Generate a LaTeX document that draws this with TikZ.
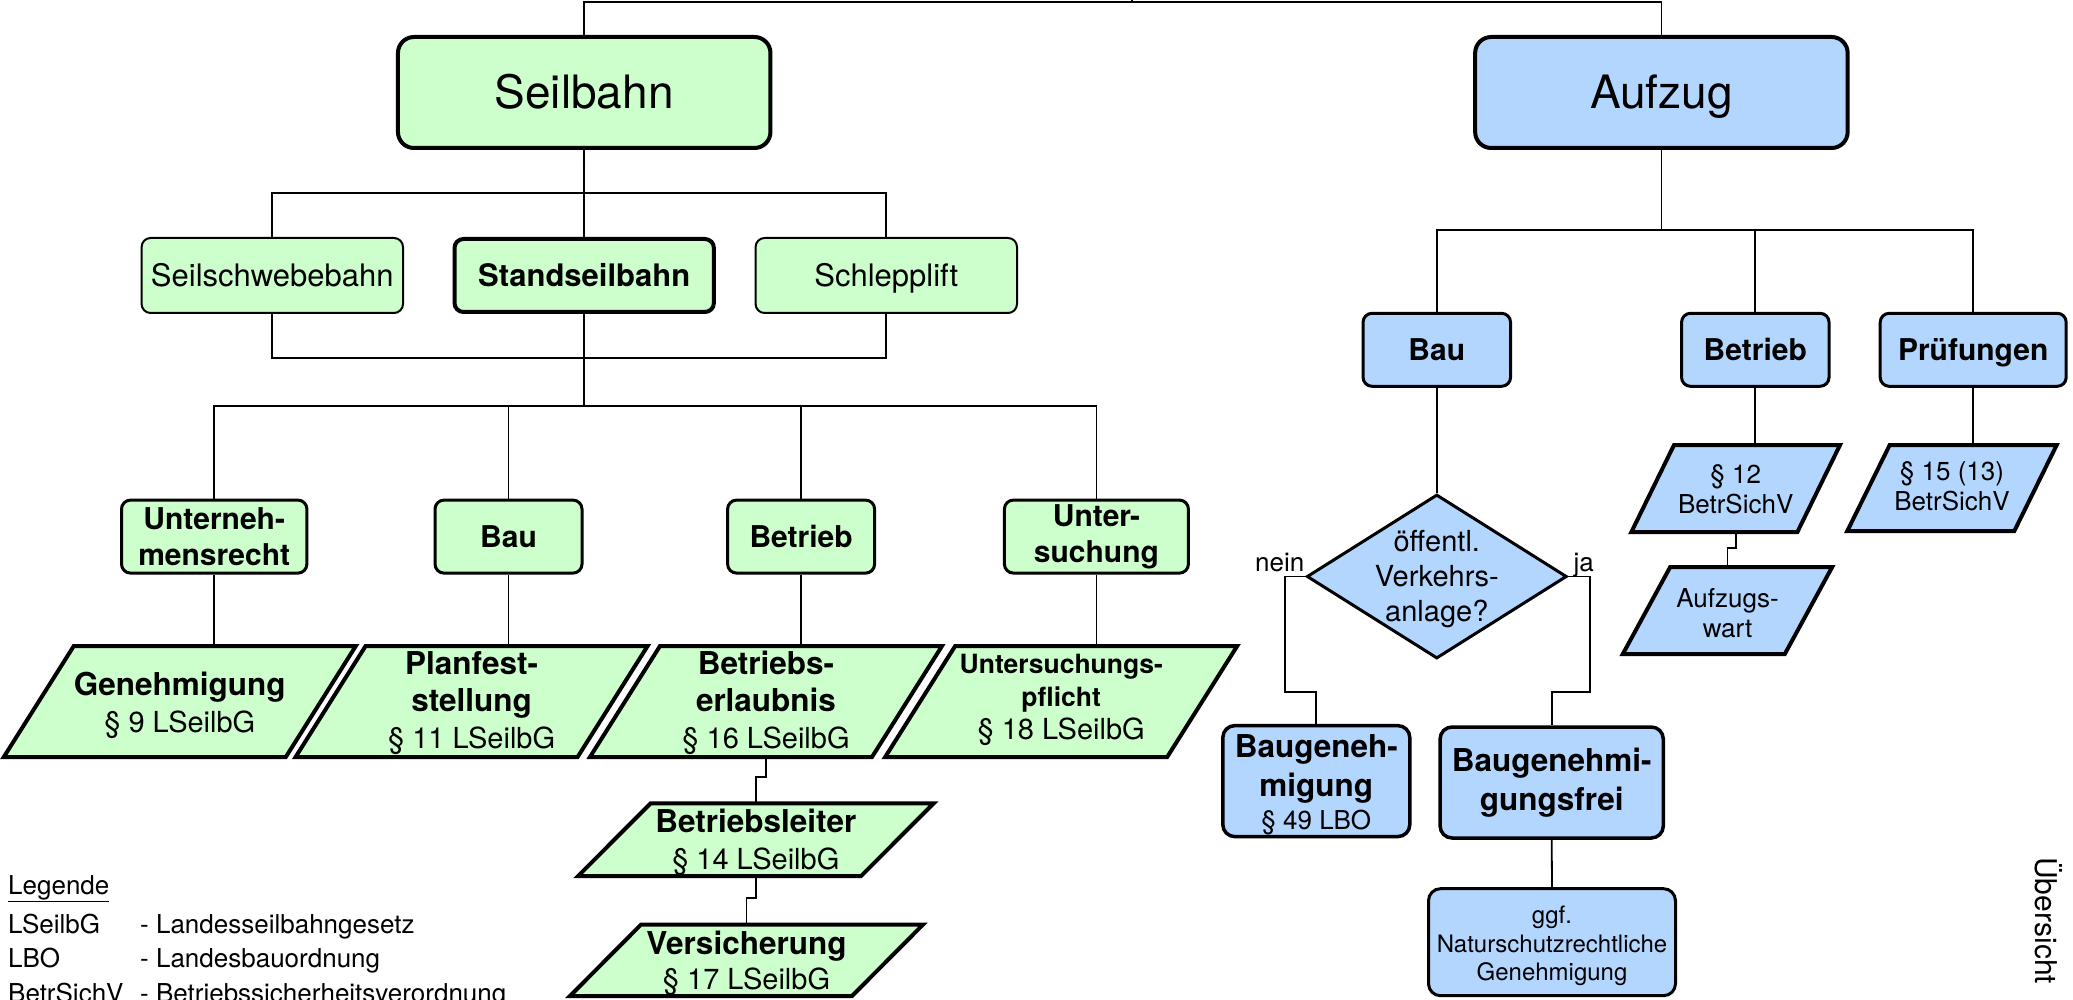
\documentclass[tikz,border=0pt]{standalone}
\usepackage{fontspec}
\setmainfont{TeX Gyre Heros}
\usetikzlibrary{shapes.geometric}
\definecolor{gfill}{RGB}{204,255,204}
\definecolor{bfill}{RGB}{179,214,255}
\newcommand{\fsz}[2]{\fontsize{#1}{#2}\selectfont}
% #1 style, #2 name, #3 cx, #4 cy, #5 half width, #6 half height, #7 half slant
\newcommand{\pgram}[7]{%
  \draw[#1] ({#3-#5+#7},{#4-#6}) -- ({#3+#5+#7},{#4-#6}) -- ({#3+#5-#7},{#4+#6}) -- ({#3-#5-#7},{#4+#6}) -- cycle;
  \coordinate (#2T) at ({#3+#7},{#4-#6});
  \coordinate (#2N) at (#3,{#4-#6});
  \coordinate (#2S) at (#3,{#4+#6});
}
\begin{document}
\begin{tikzpicture}[x=1pt,y=-1pt,
  conn/.style={line width=1.8pt},
  bigbox/.style={draw, line width=4pt, rounded corners=16pt, inner sep=0pt, minimum width=372.5pt, minimum height=111pt, font=\fsz{46}{55}, text height=33pt, text depth=0pt},
  lvbox/.style={draw, line width=2pt, rounded corners=9pt, minimum width=261.4pt, minimum height=75pt, inner sep=0pt, fill=gfill, font=\fsz{31}{37}, text height=22.3pt, text depth=0pt},
  catbox/.style={draw, line width=3pt, rounded corners=9pt, minimum height=73pt, inner sep=0pt, font=\fsz{30}{36}\bfseries, align=center},
  oneline/.style={text height=21.6pt, text depth=0pt},
  resbox/.style={draw, line width=3.5pt, rounded corners=12pt, minimum height=111pt, inner sep=0pt, fill=bfill, align=center},
  para/.style={draw, line width=4pt, line join=miter},
  ptext/.style={inner sep=0pt, align=center},
  lab/.style={inner sep=0pt, font=\fsz{26}{30}},
  leg/.style={inner sep=0pt, font=\fsz{26}{32}}
]
\useasboundingbox (0,0) rectangle (2073,1000);

% ---------- top level ----------
\node[bigbox, fill=gfill] (seil) at (584.2,92.5) {Seilbahn};
\node[bigbox, fill=bfill] (aufz) at (1661.4,92.5) {Aufzug};
\coordinate (hub) at (1132,2.3);
\coordinate (upend) at (1132,-5);
\draw[conn] (seil.north) |- (hub) -| (aufz.north);
\draw[conn] (hub) -- (upend);

% ---------- Seilbahn level 2 ----------
\node[lvbox] (ss) at (272.3,275.5) {Seilschwebebahn};
\node[lvbox, line width=4pt, minimum width=259.4pt, minimum height=73pt, font=\fsz{31}{37}\bfseries] (sb) at (584.2,275.5) {Standseilbahn};
\node[lvbox] (sl) at (886.3,275.5) {Schlepplift};
\coordinate (b1) at (584.2,193);
\coordinate (b2) at (584.2,358);
\coordinate (b3) at (584.2,405.7);
\draw[conn] (seil.south) -- (b1);
\draw[conn] (ss.north) |- (b1) -| (sl.north);
\draw[conn] (b1) -- (sb.north);
\draw[conn] (ss.south) |- (b2) -| (sl.south);
\draw[conn] (sb.south) -- (b3);

% ---------- Seilbahn level 3 ----------
\node[catbox, fill=gfill, minimum width=185.4pt] (unt) at (214.2,536.6) {Unterneh-\\mensrecht};
\node[catbox, oneline, fill=gfill, minimum width=147pt] (sbau) at (508.5,536.6) {Bau};
\node[catbox, oneline, fill=gfill, minimum width=147pt] (sbetr) at (801.1,536.6) {Betrieb};
\node[catbox, fill=gfill, minimum width=184pt] (sunt) at (1096.4,536.6) {Unter-\\suchung};
\draw[conn] (unt.north) |- (b3) -| (sunt.north);
\draw[conn] (sbau.north) |- (b3);
\draw[conn] (sbetr.north) |- (b3);

% ---------- Seilbahn parallelograms ----------
\pgram{para, fill=gfill}{gen}{179.8}{701.5}{141}{55.5}{35}
\node[ptext, font=\fsz{29}{37}] (gen) at (179.8,705) {\fsz{31.5}{37}\bfseries Genehmigung\\\fsz{29}{37}\mdseries § 9 LSeilbG};
\pgram{para, fill=gfill}{pf}{471.6}{701.5}{141}{55.5}{35}
\node[ptext, font=\fsz{29}{37}] (pf) at (471.6,703) {\fsz{31.5}{37}\bfseries Planfest-\\\fsz{31.5}{37}\bfseries stellung\\\fsz{29}{37}\mdseries § 11 LSeilbG};
\pgram{para, fill=gfill}{be}{766}{701.5}{141}{55.5}{35}
\node[ptext, font=\fsz{29}{37}] (be) at (766,703) {\fsz{31.5}{37}\bfseries Betriebs-\\\fsz{31.5}{37}\bfseries erlaubnis\\\fsz{29}{37}\mdseries § 16 LSeilbG};
\pgram{para, fill=gfill}{up}{1061.2}{701.5}{141}{55.5}{35}
\node[ptext, font=\fsz{29}{33}] (up) at (1061.2,700) {\fsz{26.5}{33}\bfseries Untersuchungs-\\\fsz{26.5}{33}\bfseries pflicht\\\fsz{29}{33}\mdseries § 18 LSeilbG};
\draw[conn] (unt.south) -- (unt.south |- genT);
\draw[conn] (sbau.south) -- (sbau.south |- pfT);
\draw[conn] (sbetr.south) -- (sbetr.south |- beT);
\draw[conn] (sunt.south) -- (sunt.south |- upT);

\pgram{para, fill=gfill}{bl}{755.8}{839.75}{141.5}{36.3}{36.2}
\node[ptext, font=\fsz{29}{37}] (bl) at (755.8,842) {\fsz{31.5}{37}\bfseries Betriebsleiter\\\fsz{29}{37}\mdseries § 14 LSeilbG};
\pgram{para, fill=gfill}{vs}{746.5}{960.3}{141}{35.7}{35.5}
\node[ptext, font=\fsz{29}{35}] (vs) at (746.5,963.5) {\fsz{31.5}{35}\bfseries Versicherung\\\fsz{29}{35}\mdseries § 17 LSeilbG};
\draw[conn] (beS) -- ++(0,20) -| (blN);
\draw[conn] (blS) -- ++(0,22) -| (vsN);

% ---------- Aufzug level 2 ----------
\node[catbox, oneline, fill=bfill, minimum width=147.5pt] (abau) at (1436.8,349.8) {Bau};
\node[catbox, oneline, fill=bfill, minimum width=147.5pt] (abetr) at (1755.3,349.8) {Betrieb};
\node[catbox, oneline, fill=bfill, minimum width=186pt] (apr) at (1973.2,349.8) {Prüfungen};
\coordinate (b4) at (1661.4,230);
\draw[conn] (aufz.south) -- (b4);
\draw[conn] (abau.north) |- (b4) -| (apr.north);
\draw[conn] (abetr.north) |- (b4);

% ---------- Aufzug: Bau ----------
\node[diamond, draw, line width=3pt, fill=bfill, inner sep=0pt, minimum width=260pt, minimum height=164pt] (q) at (1436.8,576.5) {};
\node[ptext, font=\fsz{29}{35}] (qt) at (1436.8,579) {öffentl.\\Verkehrs-\\anlage?};
\draw[conn] (abau.south) -- (q.north);
\node[resbox, minimum width=187pt, minimum height=111pt, font=\fsz{31.5}{39}\bfseries] (bg) at (1316.3,781.1) {};
\node[ptext, font=\fsz{31.5}{39}\bfseries] (bgt) at (1316.3,785) {Baugeneh-\\migung\\[-6pt]\fsz{26}{39}\mdseries § 49 LBO};
\node[resbox, minimum width=223.2pt, font=\fsz{31.5}{39}\bfseries] (bf) at (1551.7,782.5) {Baugenehmi-\\gungsfrei};
\coordinate (nj) at (1284.6,692);
\coordinate (jj) at (1589.8,692);
\draw[conn] (q.west) -| (nj) -| (bg.north);
\draw[conn] (q.east) -| (jj) -| (bf.north);
\node[lab, anchor=base east] (nein) at (1304.5,571) {nein};
\node[lab, anchor=base west] (ja) at (1573.5,571) {ja};
\node[draw, line width=3pt, rounded corners=12pt, fill=bfill, inner sep=0pt, minimum width=247pt, minimum height=107pt] (gg) at (1552,942.2) {};
\node[ptext, font=\fsz{24}{28.5}] (ggt) at (1552,946) {ggf.\\Naturschutzrechtliche\\Genehmigung};
\draw[conn] (bf.south) -- (gg.north);

% ---------- Aufzug: Betrieb / Pruefungen ----------
\pgram{para, fill=bfill}{pz}{1735.7}{488.5}{83}{43.5}{21.3}
\node[ptext, font=\fsz{26}{30}] (pz) at (1735.7,489) {§ 12\\BetrSichV};
\pgram{para, fill=bfill}{aw}{1727.5}{610.5}{81}{43.5}{23.7}
\node[ptext, font=\fsz{26}{30}] (aw) at (1727.5,613) {Aufzugs-\\wart};
\pgram{para, fill=bfill}{pf5}{1952}{488}{83.5}{43}{21.2}
\node[ptext, font=\fsz{26}{30}] (p15) at (1952,486.5) {§ 15 (13)\\BetrSichV};
\draw[conn] (abetr.south) -- (abetr.south |- pzT);
\draw[conn] (pzS) -- ++(0,15.6) -| (awN);
\draw[conn] (apr.south) -- (apr.south |- pf5T);

% ---------- legend ----------
\node[leg, anchor=base west] (lg0) at (8,894) {\underline{Legende}};
\node[leg, anchor=base west] (lg1) at (8,933.5) {LSeilbG};
\node[leg, anchor=base west] (lg1b) at (140,933.5) {- Landesseilbahngesetz};
\node[leg, anchor=base west] (lg2) at (8,967) {LBO};
\node[leg, anchor=base west] (lg2b) at (140,967) {- Landesbauordnung};
\node[leg, anchor=base west] (lg3) at (8,1002) {BetrSichV};
\node[leg, anchor=base west] (lg3b) at (140,1002) {- Betriebssicherheitsverordnung};

% ---------- side title ----------
\node[inner sep=0pt, font=\fsz{30}{36}, rotate=-90, anchor=base west] (ueb) at (2035,857) {Übersicht};
\end{tikzpicture}
\end{document}
